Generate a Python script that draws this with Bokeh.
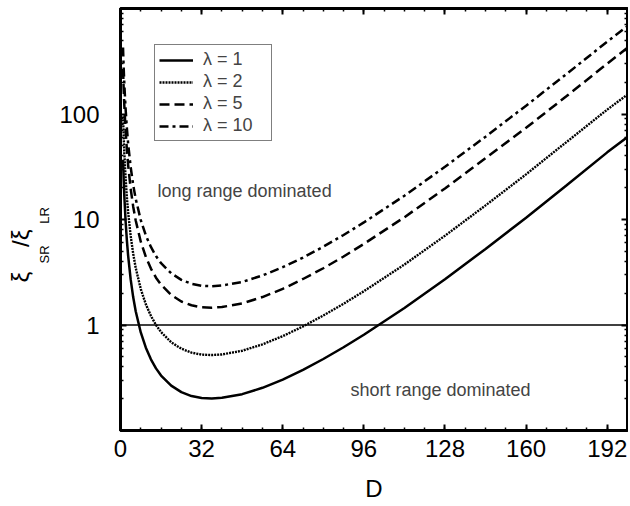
import math
from bokeh.plotting import figure
from bokeh.models import (Range1d, FixedTicker, LinearAxis, LogAxis, Span, Label, Title,
                          Legend, LegendItem, ColumnDataSource)
from bokeh.embed import file_html
from bokeh.resources import INLINE

# ---- data ----
D = [1, 1.25, 1.5, 2, 2.5, 3, 4, 5, 6, 8, 10, 12, 14, 16, 20, 24, 28, 32, 36, 40,
     48, 56, 64, 72, 80, 88, 96, 112, 128, 144, 160, 176, 192, 200]
lam1 = [36.8, 23.9, 16.8, 9.73, 6.41, 4.57, 2.72, 1.84, 1.35, 0.85, 0.609, 0.473, 0.388,
        0.332, 0.266, 0.231, 0.212, 0.203, 0.201, 0.204, 0.221, 0.254, 0.304, 0.376,
        0.476, 0.615, 0.809, 1.45, 2.72, 5.26, 10.4, 21.1, 43.3, 60.5]
lam2 = [95, 61.7, 43.3, 25.1, 16.5, 11.8, 7.02, 4.75, 3.48, 2.19, 1.57, 1.22, 1.00,
        0.857, 0.686, 0.596, 0.547, 0.524, 0.519, 0.526, 0.570, 0.655, 0.784, 0.970,
        1.23, 1.59, 2.09, 3.74, 7.02, 13.6, 26.8, 54.4, 110, 153]
lam5 = [267, 173, 122, 70.5, 46.5, 33.1, 19.7, 13.3, 9.79, 6.16, 4.42, 3.43, 2.81,
        2.41, 1.93, 1.67, 1.54, 1.47, 1.46, 1.48, 1.60, 1.84, 2.20, 2.73, 3.45, 4.46,
        5.87, 10.5, 19.7, 38.1, 74, 148, 300, 425]
lam10 = [427, 277, 195, 113, 74.4, 53.0, 31.6, 21.3, 15.7, 9.86, 7.06, 5.49, 4.50,
         3.85, 3.09, 2.68, 2.46, 2.35, 2.33, 2.37, 2.56, 2.95, 3.53, 4.36, 5.52, 7.13,
         9.38, 16.8, 31.6, 61.0, 120, 240, 485, 680]
labels = ["λ = 1", "λ = 2", "λ = 5", "λ = 10"]
x_ticks = [0, 32, 64, 96, 128, 160, 192]
y_ticks = [1, 10, 100]

FONT = "Liberation Sans"
W, H = 628, 504
NB = "\u00a0"

p = figure(width=W, height=H, output_backend="svg", toolbar_location=None,
           y_axis_type="log", x_range=Range1d(0, 200), y_range=Range1d(0.1, 1000),
           min_border_left=120, min_border_right=1, min_border_top=8,
           min_border_bottom=74)
p.xgrid.visible = False
p.ygrid.visible = False
p.outline_line_color = "black"
p.outline_line_width = 3
p.background_fill_color = "white"
p.border_fill_color = "white"

x_minor = [v for v in range(0, 201, 8)]
y_minor = [m * 10.0 ** e for e in range(-1, 3) for m in range(2, 10)]
xt = FixedTicker(ticks=x_ticks, minor_ticks=x_minor)
yt = FixedTicker(ticks=y_ticks, minor_ticks=y_minor)


def style(ax, show_labels):
    ax.axis_line_width = 3
    ax.axis_line_color = "black"
    ax.major_tick_in = 6
    ax.major_tick_out = 0
    ax.minor_tick_in = 3
    ax.minor_tick_out = 0
    ax.major_tick_line_width = 2
    ax.minor_tick_line_width = 1.5
    ax.major_tick_line_color = "black"
    ax.minor_tick_line_color = "black"
    ax.major_label_text_font = FONT
    ax.major_label_text_font_size = "24px" if show_labels else "0px"
    ax.major_label_text_color = "black"
    if not show_labels:
        ax.major_label_text_alpha = 0
        ax.major_label_standoff = 0


p.xaxis.ticker = xt
p.yaxis.ticker = yt
style(p.xaxis[0], True)
style(p.yaxis[0], True)
p.yaxis.major_label_overrides = {1: "1", 10: "10", 100: "100"}
p.xaxis.axis_label = "D"
p.xaxis.axis_label_text_font = FONT
p.xaxis.axis_label_text_font_size = "24px"
p.xaxis.axis_label_text_font_style = "normal"
p.xaxis.axis_label_text_color = "black"
p.xaxis.axis_label_standoff = 15
p.xaxis.major_label_standoff = 9
p.yaxis.major_label_standoff = 21

top = LinearAxis(ticker=xt)
style(top, False)
p.add_layout(top, "above")
right = LogAxis(ticker=yt)
style(right, False)
p.add_layout(right, "right")

# y axis label  ξ_SR / ξ_LR : subscripts and main text as two rotated side titles
sub_title = Title(text="SR" + NB * 6 + "LR", align="left", offset=167,
                  vertical_align="top", standoff=6, text_font=FONT,
                  text_font_size="13px", text_font_style="normal", text_color="black")
main_title = Title(text="ξ" + NB * 3 + "\u2009/ξ", align="left", offset=148,
                   vertical_align="bottom", standoff=0, text_font=FONT,
                   text_font_size="24px", text_font_style="normal", text_color="black")
p.add_layout(sub_title, "left")
p.add_layout(main_title, "left")

# reference line at ratio 1
p.add_layout(Span(location=1, dimension="width", line_color="black", line_width=1.5))

src = ColumnDataSource(dict(D=D, l1=lam1, l2=lam2, l5=lam5, l10=lam10))
r1 = p.line("D", "l1", source=src, line_color="black", line_width=2.5)
r2 = p.line("D", "l2", source=src, line_color="black", line_width=2.4, line_dash="2 1")
r5 = p.line("D", "l5", source=src, line_color="black", line_width=2.5, line_dash="10 5")
r10 = p.line("D", "l10", source=src, line_color="black", line_width=2.5, line_dash="9 4 3 4")

legend = Legend(items=[LegendItem(label=labels[0], renderers=[r1]),
                       LegendItem(label=labels[1], renderers=[r2]),
                       LegendItem(label=labels[2], renderers=[r5]),
                       LegendItem(label=labels[3], renderers=[r10])],
                location=(34, 289), padding=4, spacing=1, label_height=20,
                glyph_height=20, glyph_width=34, label_standoff=10, label_width=64,
                label_text_font=FONT, label_text_font_size="18px",
                border_line_color="black", border_line_width=1,
                background_fill_alpha=1, margin=0)
p.add_layout(legend, "center")

p.add_layout(Label(x=14.6, y=18.6, text="long range dominated", text_font=FONT,
                   text_font_size="18px", text_baseline="middle"))
p.add_layout(Label(x=90.7, y=0.242, text="short range dominated", text_font=FONT,
                   text_font_size="18px", text_baseline="middle"))

open("out.html", "w").write(file_html(p, INLINE))
